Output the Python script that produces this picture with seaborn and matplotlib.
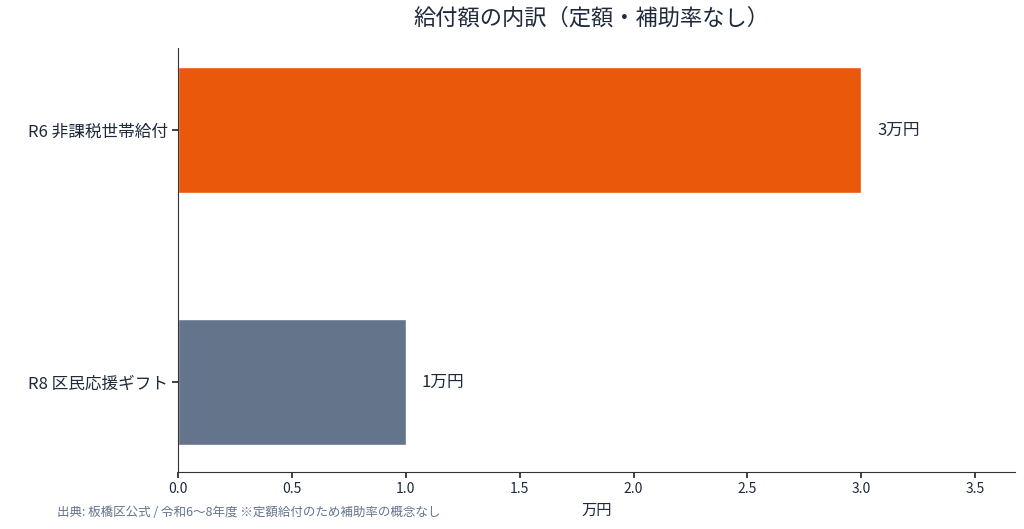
import matplotlib
matplotlib.use("Agg")
import matplotlib.pyplot as plt
import seaborn as sns
import pandas as pd

categories = ["R6 非課税世帯給付", "R8 区民応援ギフト"]
values = [3, 1]
value_labels = ["3万円", "1万円"]
colors = ["#EA580C", "#64748B"]

sns.set_theme(style="white")
plt.rcParams['font.family'] = ['Noto Sans CJK JP', 'DejaVu Sans']
txt = "#1E293B"

df = pd.DataFrame({"cat": categories, "val": values})
fig = plt.figure(figsize=(10.24, 5.29), dpi=100)
ax = fig.add_axes([178/1024, 1-472/529, (1015-178)/1024, (472-48)/529])
sns.barplot(data=df, x="val", y="cat", hue="cat", palette=colors, legend=False,
            width=0.5, saturation=1, ax=ax)
ax.set_xlim(0, 3.675)
ax.set_ylim(1.357, -0.325)
for i, (v, l) in enumerate(zip(values, value_labels)):
    ax.text(v + 0.07, i, l, va="center", ha="left", fontsize=12, color=txt)
ax.set_xticks([0, 0.5, 1, 1.5, 2, 2.5, 3, 3.5])
ax.set_xticklabels(["0.0", "0.5", "1.0", "1.5", "2.0", "2.5", "3.0", "3.5"])
ax.tick_params(axis="x", labelsize=10, colors=txt, length=4, bottom=True)
ax.tick_params(axis="y", labelsize=12, colors=txt, length=4, left=True)
ax.set_xlabel("万円", fontsize=11, color=txt)
ax.set_ylabel("")
for s in ["top", "right"]:
    ax.spines[s].set_visible(False)
for s in ["left", "bottom"]:
    ax.spines[s].set_color("#333333")
    ax.spines[s].set_linewidth(0.8)
fig.text(0.578, 0.965, "給付額の内訳（定額・補助率なし）", ha="center", va="center",
         fontsize=16, color=txt)
fig.text(57/1024, 1-513/529, "出典: 板橋区公式 / 令和6〜8年度 ※定額給付のため補助率の概念なし",
         ha="left", va="center", fontsize=9, color="#64748B")
fig.savefig("out.png", dpi=100)
